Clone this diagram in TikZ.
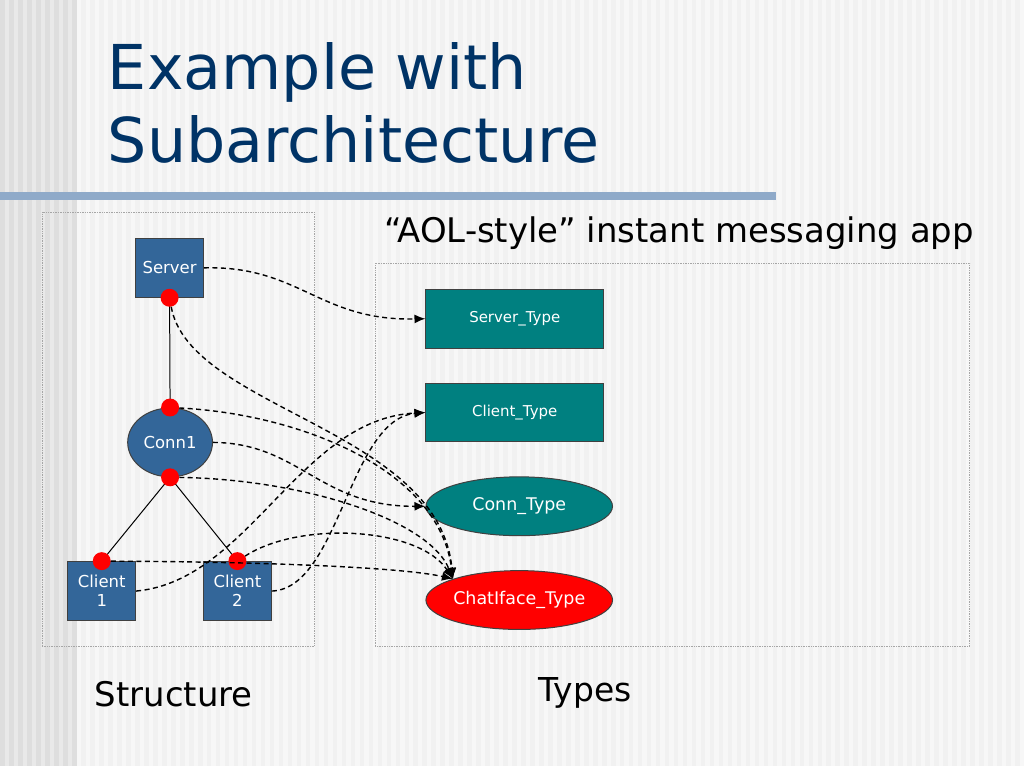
\documentclass[tikz,border=0pt]{standalone}
\usepackage{fontspec}
\setmainfont{DejaVu Sans}
\usetikzlibrary{shapes.geometric,arrows.meta}
\definecolor{titleblue}{RGB}{0,51,102}
\definecolor{barblue}{RGB}{143,170,201}
\definecolor{compblue}{RGB}{51,102,153}
\definecolor{typeteal}{RGB}{0,128,128}
\tikzset{
  comp/.style={draw=black!75, line width=1pt, fill=compblue, text=white, inner sep=0pt,
    minimum width=68pt, minimum height=59pt, font=\fontsize{16.5}{19}\selectfont, align=center},
  conn/.style={ellipse, draw=black!75, line width=1pt, fill=compblue, text=white, inner sep=0pt,
    minimum width=85pt, minimum height=69pt, font=\fontsize{16.5}{19}\selectfont},
  typebox/.style={draw=black!75, line width=1pt, fill=typeteal, text=white, inner sep=0pt,
    minimum width=178pt, minimum height=59pt, font=\fontsize{15}{17}\selectfont},
  typeell/.style={ellipse, draw=black!75, line width=1pt, fill=typeteal, text=white, inner sep=0pt,
    minimum width=187pt, minimum height=59pt, font=\fontsize{17.5}{20}\selectfont},
  port/.style={circle, fill=red, inner sep=0pt, minimum size=18pt},
  link/.style={line width=1pt},
  maps/.style={line width=1.4pt, dash pattern=on 5pt off 3.5pt, -{Latex[length=11pt,width=9pt]}},
  frame/.style={densely dotted, draw=gray!70, line width=0.7pt}
}
\begin{document}
\begin{tikzpicture}[x=1pt,y=-1pt]
  % background with stripes
  \fill[color={rgb,255:red,241;green,241;blue,241}] (0,0) rectangle (1024,768);
  \foreach \x in {77,86,...,1024}
    \fill[color={rgb,255:red,247;green,247;blue,247}] (\x,0) rectangle (\x+4.5,768);
  \fill[color={rgb,255:red,222;green,222;blue,222}] (0,0) rectangle (77,768);
  \foreach \x in {5,14,...,72}
    \fill[color={rgb,255:red,233;green,233;blue,233}] (\x,0) rectangle (\x+4.5,768);
  \useasboundingbox (0,0) rectangle (1024,768);

  % title
  \node[anchor=base west, inner sep=0pt, text=titleblue, font=\fontsize{62}{73}\selectfont] (title1) at (108,90) {Example with};
  \node[anchor=base west, inner sep=0pt, text=titleblue, font=\fontsize{62}{73}\selectfont] (title2) at (108,163) {Subarchitecture};
  \fill[barblue] (0,192) rectangle (778,200);

  % frames
  \draw[frame] (42,213) rectangle (315,648);
  \draw[frame] (376,264) rectangle (972,648);
  \node[anchor=base west, inner sep=0pt, font=\fontsize{34}{40}\selectfont] (app) at (385,243) {“AOL-style” instant messaging app};
  \node[anchor=base west, inner sep=0pt, font=\fontsize{34}{40}\selectfont] (structure) at (95,708) {Structure};
  \node[anchor=base west, inner sep=0pt, font=\fontsize{33}{40}\selectfont] (types) at (540,703) {Types};

  % structure
  \node[comp] (server) at (170,268.5) {Server};
  \node[conn] (conn1) at (170.5,443.5) {Conn1};
  \node[comp] (client1) at (102,592.5) {Client\\1};
  \node[comp] (client2) at (238,592.5) {Client\\2};
  \draw[link] (server.south) -- (conn1.north);
  \draw[link] (conn1.south) -- (client1.north);
  \draw[link] (conn1.south) -- (client2.north);
  \node[port] (sp) at (server.south) {};
  \node[port] (ctop) at (conn1.north) {};
  \node[port] (cbot) at (conn1.south) {};
  \node[port] (c1p) at (client1.north) {};
  \node[port] (c2p) at (client2.north) {};

  % types
  \node[typebox] (servertype) at (516,319.5) {Server\_Type};
  \node[typebox] (clienttype) at (516,413.5) {Client\_Type};
  \node[typeell] (conntype) at (520.5,507.5) {Conn\_Type};
  \node[typeell, fill=red] (chattype) at (520.5,601.5) {ChatIface\_Type};

  % mappings
  \draw[maps] (server.east) .. controls (300,266) and (320,322) .. (servertype.west);
  \draw[maps] (sp) .. controls (190,410) and (440,430) .. (chattype.north west);
  \draw[maps] (ctop) .. controls (300,415) and (440,470) .. (chattype.north west);
  \draw[maps] (conn1.east) .. controls (300,444) and (320,508) .. (conntype.west);
  \draw[maps] (cbot) .. controls (300,480) and (430,520) .. (chattype.north west);
  \draw[maps] (c1p) .. controls (250,563) and (400,568) .. (chattype.north west);
  \draw[maps] (c2p) .. controls (300,522) and (420,528) .. (chattype.north west);
  \draw[maps] (client1.east) .. controls (250,582) and (300,420) .. (clienttype.west);
  \draw[maps] (client2.east) .. controls (340,590) and (350,420) .. (clienttype.west);
\end{tikzpicture}
\end{document}
